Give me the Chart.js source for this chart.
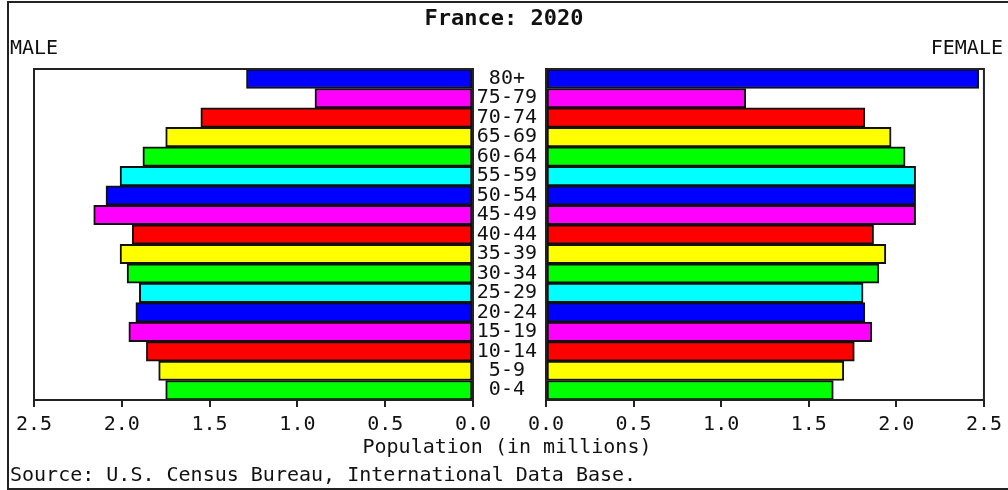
<!DOCTYPE html>
<html>
<head>
<meta charset="utf-8">
<script src="https://cdn.jsdelivr.net/npm/chart.js@4/dist/chart.umd.min.js"></script>
<style>
  body { margin: 0; background: #fff; }
  #wrap { position: relative; width: 1008px; height: 490px; overflow: hidden; background: #fff; font-family: "DejaVu Sans Mono", monospace; color: #111; }
  #wrap canvas { position: absolute; left: 0; top: 0; }
  .txt { position: absolute; font-size: 20px; line-height: 20px; white-space: nowrap; }
  #frame { position: absolute; left: 7px; top: 1px; width: 1020px; height: 485px; border: 2px solid #222; }
</style>
</head>
<body>
<div id="wrap">
  <div id="frame"></div>
  <canvas id="maleChart" width="1008" height="490"></canvas>
  <canvas id="femaleChart" width="1008" height="490"></canvas>
  <div class="txt" style="left:0; width:1008px; text-align:center; top:8px; font-weight:bold; font-size:22px;">France: 2020</div>
  <div class="txt" style="left:10px; top:37px;">MALE</div>
  <div class="txt" style="right:5px; top:37px;">FEMALE</div>
  <div class="txt" style="left:0; width:1014px; text-align:center; top:436px;">Population (in millions)</div>
  <div class="txt" style="left:10px; top:464px;">Source: U.S. Census Bureau, International Data Base.</div>
</div>
<script>
// values in millions, top row first
const ageGroups = ["80+", "75-79", "70-74", "65-69", "60-64", "55-59", "50-54", "45-49", "40-44",
    "35-39", "30-34", "25-29", "20-24", "15-19", "10-14", "5-9", "0-4"];
const maleValues = [1.29, 0.90, 1.55, 1.75, 1.88, 2.01, 2.09, 2.16, 1.94, 2.01, 1.97, 1.90, 1.92, 1.96, 1.86, 1.79, 1.75];
const femaleValues = [2.47, 1.14, 1.82, 1.97, 2.05, 2.11, 2.11, 2.11, 1.87, 1.94, 1.90, 1.81, 1.82, 1.86, 1.76, 1.70, 1.64];
const barColors = ["#0000ff", "#ff00ff", "#ff0000", "#ffff00", "#00ff00", "#00ffff",
    "#0000ff", "#ff00ff", "#ff0000", "#ffff00", "#00ff00", "#00ffff",
    "#0000ff", "#ff00ff", "#ff0000", "#ffff00", "#00ff00"];
const tickValues = [0, 0.5, 1.0, 1.5, 2.0, 2.5];

const monoFont = { family: "DejaVu Sans Mono", size: 20 };

// box round the plot area
const boxPlugin = {
    id: 'box',
    afterDraw(chart) {
        const a = chart.chartArea;
        const ctx = chart.ctx;
        ctx.save();
        ctx.strokeStyle = '#222';
        ctx.lineWidth = 2;
        ctx.strokeRect(a.left, a.top, a.right - a.left, a.bottom - a.top);
        ctx.restore();
    }
};

function xScale(reverse) {
    return {
        min: 0,
        max: 2.5,
        reverse: reverse,
        afterBuildTicks: axis => { axis.ticks = tickValues.map(v => ({ value: v })); },
        afterFit: axis => { axis.height = 90; },
        grid: { drawOnChartArea: false, color: '#222', lineWidth: 2, tickLength: 7 },
        border: { display: false },
        ticks: { font: monoFont, color: '#111', padding: 6, maxRotation: 0, callback: v => v.toFixed(1) }
    };
}

function makeData(values) {
    return {
        labels: ageGroups,
        datasets: [{
            data: values,
            backgroundColor: barColors,
            borderColor: '#111',
            borderWidth: 2,
            borderSkipped: false,
            barPercentage: 1,
            categoryPercentage: 1
        }]
    };
}

new Chart(document.getElementById('maleChart'), {
    type: 'bar',
    data: makeData(maleValues),
    plugins: [boxPlugin],
    options: {
        indexAxis: 'y',
        responsive: false,
        animation: false,
        devicePixelRatio: 1,
        layout: { padding: { left: 34, right: 535, top: 69, bottom: 0 } },
        plugins: { legend: { display: false }, tooltip: { enabled: false } },
        scales: {
            x: xScale(true),
            y: { display: false }
        }
    }
});

new Chart(document.getElementById('femaleChart'), {
    type: 'bar',
    data: makeData(femaleValues),
    plugins: [boxPlugin],
    options: {
        indexAxis: 'y',
        responsive: false,
        animation: false,
        devicePixelRatio: 1,
        layout: { padding: { left: 474, right: 23, top: 69, bottom: 0 } },
        plugins: { legend: { display: false }, tooltip: { enabled: false } },
        scales: {
            x: xScale(false),
            y: {
                position: 'left',
                afterFit: axis => { axis.width = 72; },
                grid: { display: false },
                border: { display: false },
                ticks: { font: monoFont, color: '#111', padding: 1, crossAlign: 'center', autoSkip: false }
            }
        }
    }
});
</script>
</body>
</html>
